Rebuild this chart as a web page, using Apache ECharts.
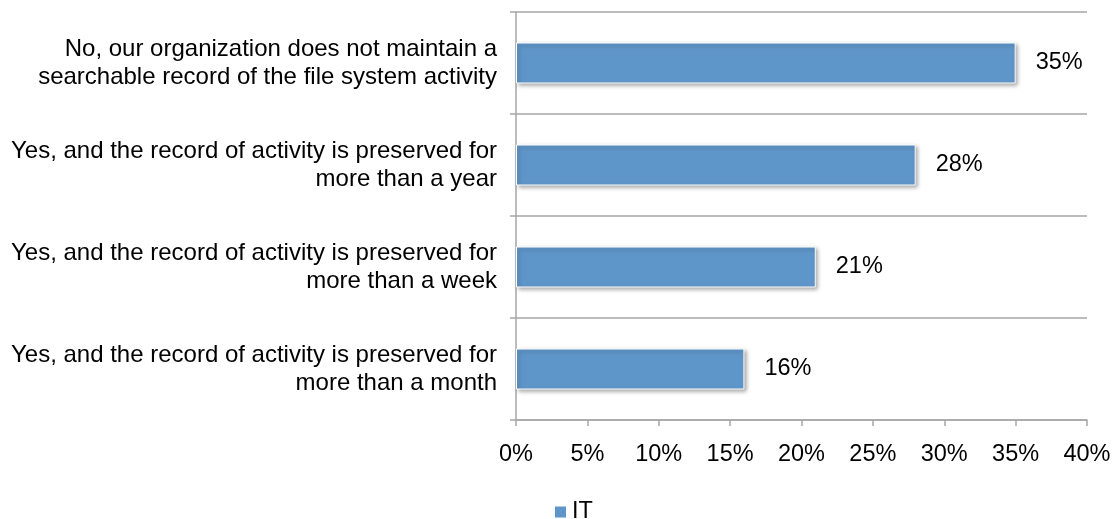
<!DOCTYPE html>
<html>
<head>
<meta charset="utf-8">
<script src="https://cdn.jsdelivr.net/npm/echarts@6/dist/echarts.min.js"></script>
<style>
  html, body { margin: 0; padding: 0; background: #ffffff; }
  #chart { width: 1115px; height: 519px; }
</style>
</head>
<body>
<div id="chart"></div>
<script>
// Survey answers, listed top to bottom
const categories = [
  'No, our organization does not maintain a\nsearchable record of the file system activity',
  'Yes, and the record of activity is preserved for\nmore than a year',
  'Yes, and the record of activity is preserved for\nmore than a week',
  'Yes, and the record of activity is preserved for\nmore than a month'
];
const seriesName = 'IT';
const values = [35, 28, 21, 16];
const axisMin = 0;
const axisMax = 40;
const axisStep = 5;

const FONT = 'Liberation Sans, Arial, Helvetica, sans-serif';
const FONT_SIZE = 23.5;
const GRID_COLOR = '#a6a6a6';
const BAR_COLOR = '#5f96c9';

const chart = echarts.init(document.getElementById('chart'), null, { renderer: 'canvas' });

chart.setOption({
  animation: false,
  textStyle: { fontFamily: FONT },
  grid: { left: 516, right: 28, top: 12, bottom: 99, containLabel: false },
  legend: {
    data: [seriesName],
    left: 555,
    top: 500,
    padding: 0,
    itemWidth: 11,
    itemHeight: 11,
    itemGap: 6,
    icon: 'rect',
    itemStyle: { borderWidth: 0, shadowBlur: 0, shadowOffsetX: 0, shadowOffsetY: 0 },
    textStyle: { fontSize: FONT_SIZE, color: '#000', fontFamily: FONT, padding: [0, 0, 0, 1] }
  },
  xAxis: {
    type: 'value',
    min: axisMin,
    max: axisMax,
    interval: axisStep,
    axisLine: { show: true, lineStyle: { color: GRID_COLOR, width: 1.5 } },
    axisTick: { show: true, length: 6, lineStyle: { color: GRID_COLOR, width: 1.5 } },
    splitLine: { show: false },
    axisLabel: {
      formatter: '{value}%',
      fontSize: FONT_SIZE,
      color: '#000',
      margin: 23,
      fontFamily: FONT
    }
  },
  yAxis: {
    type: 'category',
    data: categories,
    inverse: true,
    axisLine: { show: true, lineStyle: { color: GRID_COLOR, width: 1.5 } },
    axisTick: { show: true, length: 6, lineStyle: { color: GRID_COLOR, width: 1.5 } },
    splitLine: { show: true, lineStyle: { color: GRID_COLOR, width: 1.5 } },
    axisLabel: {
      fontSize: 24,
      color: '#000',
      margin: 19,
      lineHeight: 28,
      align: 'right',
      fontFamily: FONT
    }
  },
  series: [{
    name: seriesName,
    type: 'bar',
    data: values,
    barWidth: 41,
    itemStyle: {
      color: BAR_COLOR,
      borderColor: '#ffffff',
      borderWidth: 1,
      shadowColor: 'rgba(0,0,0,0.35)',
      shadowBlur: 4,
      shadowOffsetX: 2,
      shadowOffsetY: 2
    },
    label: {
      show: true,
      position: 'right',
      distance: 20,
      formatter: '{c}%',
      fontSize: FONT_SIZE,
      color: '#000',
      fontFamily: FONT
    }
  }]
});
</script>
</body>
</html>
